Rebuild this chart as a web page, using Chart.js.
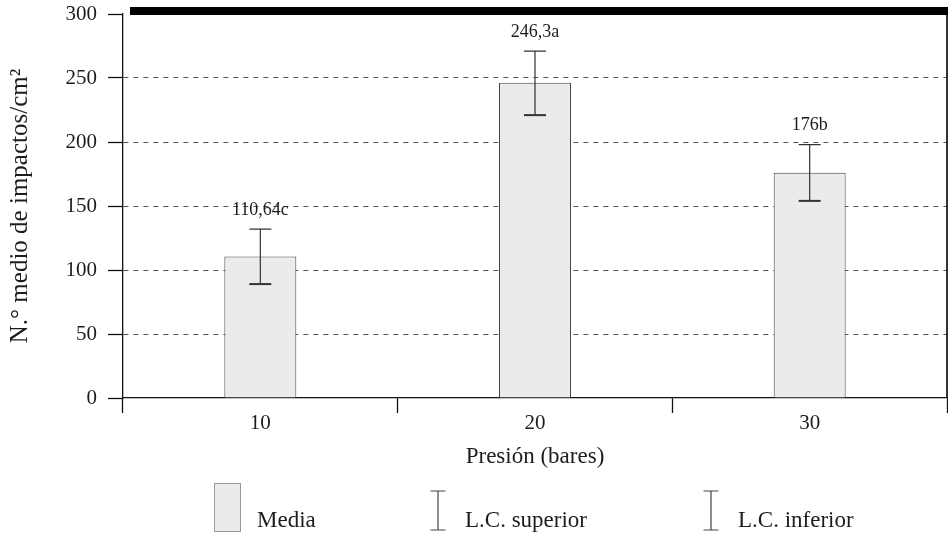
<!DOCTYPE html>
<html>
<head>
<meta charset="utf-8">
<script src="https://cdn.jsdelivr.net/npm/chart.js@4"></script>
<style>
  body { margin: 0; background: #fff; }
  canvas { display: block; }
</style>
</head>
<body>
<canvas id="impactChart" width="948" height="538"></canvas>
<script>
// Pressure levels and mean impacts per cm2
const pressures = ['10', '20', '30'];
const meanImpacts = [110.64, 246.3, 176];
const groupLetters = ['c', 'a', 'b'];
const upperCL = [132, 271, 198];
const lowerCL = [89, 221, 154];
const yTicks = [0, 50, 100, 150, 200, 250, 300];
const legendLabels = ['Media', 'L.C. superior', 'L.C. inferior'];

const serif = '"Liberation Serif", "Times New Roman", serif';
const barFill = '#ebebeb';
const ink = '#1c1c1c';

// "110,64c" style labels from the mean values
const valueLabels = meanImpacts.map((v, i) => String(v).replace('.', ',') + groupLetters[i]);

// Error bars (confidence limits) and value labels above them
const errorBars = {
  id: 'errorBars',
  afterDatasetsDraw(chart) {
    const ctx = chart.ctx;
    const y = chart.scales.y;
    const meta = chart.getDatasetMeta(0);
    ctx.save();
    ctx.strokeStyle = '#333';
    meta.data.forEach((bar, i) => {
      const yHi = y.getPixelForValue(upperCL[i]);
      const yLo = y.getPixelForValue(lowerCL[i]);
      ctx.lineWidth = 1.2;
      ctx.beginPath();
      ctx.moveTo(bar.x, yHi);
      ctx.lineTo(bar.x, yLo);
      ctx.moveTo(bar.x - 11, yHi);
      ctx.lineTo(bar.x + 11, yHi);
      ctx.stroke();
      ctx.lineWidth = 2;
      ctx.beginPath();
      ctx.moveTo(bar.x - 11, yLo);
      ctx.lineTo(bar.x + 11, yLo);
      ctx.stroke();

      ctx.fillStyle = ink;
      ctx.font = '18px ' + serif;
      ctx.textAlign = 'center';
      ctx.textBaseline = 'middle';
      ctx.fillText(valueLabels[i], bar.x, yHi - 19);
    });
    ctx.restore();
  }
};

// Heavy top rule and right frame line
const frame = {
  id: 'frame',
  afterDraw(chart) {
    const ctx = chart.ctx;
    const area = chart.chartArea;
    const yTop = chart.scales.y.getPixelForValue(300);
    ctx.save();
    ctx.strokeStyle = '#000';
    ctx.lineWidth = 1.6;
    ctx.beginPath();
    ctx.moveTo(area.right, yTop - 4);
    ctx.lineTo(area.right, area.bottom);
    ctx.stroke();
    ctx.lineWidth = 8;
    ctx.beginPath();
    ctx.moveTo(area.left + 7, yTop - 3);
    ctx.lineTo(chart.width, yTop - 3);
    ctx.stroke();
    ctx.restore();
  }
};

// Legend row: bar swatch and two confidence-limit symbols
const legendRow = {
  id: 'legendRow',
  afterDraw(chart) {
    const ctx = chart.ctx;
    ctx.save();
    ctx.fillStyle = barFill;
    ctx.strokeStyle = '#999';
    ctx.lineWidth = 1;
    ctx.fillRect(214, 483, 26, 48);
    ctx.strokeRect(214.5, 483.5, 26, 48);

    ctx.strokeStyle = '#444';
    ctx.lineWidth = 1.2;
    [438, 711].forEach(x => {
      ctx.beginPath();
      ctx.moveTo(x, 491);
      ctx.lineTo(x, 530);
      ctx.moveTo(x - 7.5, 491);
      ctx.lineTo(x + 7.5, 491);
      ctx.moveTo(x - 7.5, 530);
      ctx.lineTo(x + 7.5, 530);
      ctx.stroke();
    });

    ctx.fillStyle = ink;
    ctx.font = '23px ' + serif;
    ctx.textAlign = 'left';
    ctx.textBaseline = 'alphabetic';
    [257, 465, 738].forEach((x, i) => ctx.fillText(legendLabels[i], x, 527));
    ctx.restore();
  }
};

new Chart(document.getElementById('impactChart'), {
  type: 'bar',
  data: {
    labels: pressures,
    datasets: [{
      label: legendLabels[0],
      data: meanImpacts,
      backgroundColor: barFill,
      borderColor: '#444',
      borderWidth: 1,
      categoryPercentage: 1,
      barPercentage: 0.262
    }]
  },
  options: {
    responsive: false,
    animation: false,
    layout: { padding: { top: 14, right: 1, left: 0, bottom: 0 } },
    plugins: {
      legend: { display: false },
      tooltip: { enabled: false }
    },
    scales: {
      x: {
        grid: {
          offset: true,
          drawOnChartArea: false,
          tickLength: 15,
          tickColor: '#111',
          tickWidth: 1.3
        },
        border: { color: '#111', width: 1.3 },
        ticks: {
          color: ink,
          padding: -2,
          font: { family: serif, size: 21 }
        },
        title: {
          display: true,
          text: 'Presión (bares)',
          color: ink,
          font: { family: serif, size: 23 },
          padding: { top: 0, bottom: 67 }
        },
        afterFit(scale) { scale.height = 140; }
      },
      y: {
        min: 0,
        max: 300,
        afterBuildTicks(scale) { scale.ticks = yTicks.map(v => ({ value: v })); },
        grid: {
          color: c => (c.tick && (c.tick.value === 0 || c.tick.value === 300)) ? 'rgba(0,0,0,0)' : '#555',
          lineWidth: 1,
          tickLength: 15,
          tickColor: '#111',
          tickWidth: 1.3,
          tickBorderDash: []
        },
        border: { color: '#111', width: 1.3, dash: [5, 5] },
        ticks: {
          color: ink,
          padding: 11,
          font: { family: serif, size: 21 }
        },
        title: {
          display: true,
          text: 'N.° medio de impactos/cm²',
          color: ink,
          font: { family: serif, size: 25 },
          padding: { top: 5, bottom: 5 }
        },
        afterFit(scale) {
          scale.width = 123;
          scale.paddingTop = 0;
        }
      }
    }
  },
  plugins: [errorBars, frame, legendRow]
});
</script>
</body>
</html>
